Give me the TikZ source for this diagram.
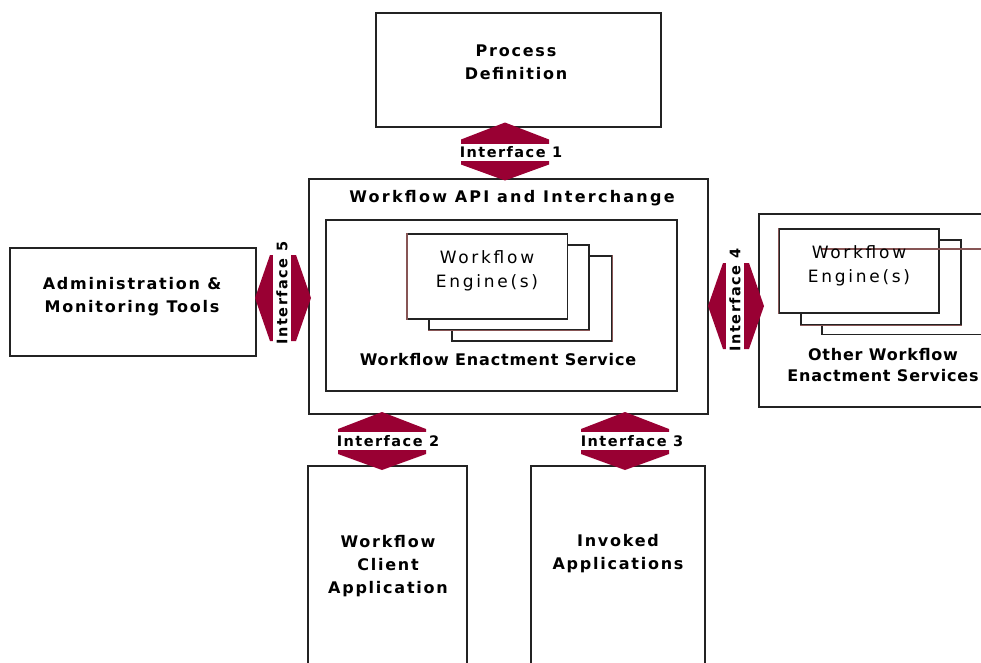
\documentclass[tikz,border=0pt]{standalone}
\usepackage{fontspec}
\setmainfont{DejaVu Sans}
\usetikzlibrary{calc}
\definecolor{ired}{RGB}{153,0,51}
\definecolor{bline}{RGB}{35,35,35}
\definecolor{brn}{RGB}{135,85,85}
\begin{document}
\begin{tikzpicture}[x=1pt,y=-1pt,
  box/.style={draw=bline,fill=white,line width=1.4pt,inner sep=0pt},
  ebox/.style={draw=bline,fill=white,line width=1.1pt,inner sep=0pt,minimum width=160,minimum height=85},
  lab/.style={inner sep=0pt,align=center,text=black},
  ftB/.style={font=\fontsize{16}{23}\selectfont\bfseries\addfontfeature{LetterSpace=11}},
  ftH/.style={font=\fontsize{16}{23}\selectfont\bfseries\addfontfeature{LetterSpace=14}},
  ftE/.style={font=\fontsize{17}{24}\selectfont\addfontfeature{LetterSpace=16}},
  ftS/.style={font=\fontsize{16}{21}\selectfont\bfseries\addfontfeature{LetterSpace=5}},
  ftI/.style={font=\fontsize{14.5}{16}\selectfont\bfseries\addfontfeature{LetterSpace=10}},
  ilab/.style={lab,ftI,fill=white,inner xsep=1pt,inner ysep=3pt},
  vhex/.pic={\fill[ired] (0,-29) -- (44,-12) -- (44,13) -- (0,29) -- (-44,13) -- (-44,-12) -- cycle;},
  hhex/.pic={\fill[ired] (-28,0) -- (-13,-43) -- (13,-43) -- (28,0) -- (13,43) -- (-13,43) -- cycle;}
]
\clip (0,0) rectangle (981,662);
\fill[white] (0,0) rectangle (981,662);

% boxes
\node[box,minimum width=285,minimum height=114] (pd) at (518.5,70) {};
\node[box,minimum width=399,minimum height=235] (api) at (508.5,296.5) {};
\node[box,minimum width=351,minimum height=171] (wes) at (501.5,305.5) {};
\node[box,minimum width=246,minimum height=108] (adm) at (133,302) {};
\node[box,minimum width=250,minimum height=193] (ows) at (884,310.5) {};
\node[box,minimum width=159,minimum height=220] (cli) at (387.5,576) {};
\node[box,minimum width=174,minimum height=220] (inv) at (618,576) {};

% engine stacks (main)
\node[ebox] (e3) at (532,298.5) {};
\node[ebox] (e2) at (509,287.5) {};
\node[ebox] (e1) at (487.5,276.5) {};
\draw[brn,line width=1.1pt] (e3.north east) -- (e3.south east);
\draw[brn,line width=1.1pt] (e2.south west) -- (e2.south east);
\draw[brn,line width=1.1pt] (e1.south west) -- (e1.north west);

% engine stacks (other)
\node[ebox,minimum width=180] (o3) at (912,292) {};
\node[ebox] (o2) at (881,282.5) {};
\node[ebox,minimum height=84] (o1) at (859,271) {};
\draw[brn,line width=1.1pt] (o3.north west) -- (o3.north east);
\draw[brn,line width=1.1pt] (o2.south west) -- (o2.south east);
\draw[brn,line width=1.1pt] (o1.south west) -- (o1.north west);

% texts
\node[lab,ftB] (pdt) at (516,62) {Process\\Definition};
\node[lab,ftH] (apit) at (512,198) {Workflow API and Interchange};
\node[lab,ftE] (e1t) at (487,271) {Workflow\\Engine(s)};
\node[lab,ftS] (west) at (498,360) {Workflow Enactment Service};
\node[lab,ftB] (admt) at (132,297) {Administration \&\\Monitoring Tools};
\node[lab,ftE] (o1t) at (859,266) {Workflow\\Engine(s)};
\node[lab,ftS] (owst) at (883,365) {Other Workflow\\Enactment Services};
\node[lab,ftB] (clit) at (388,566) {Workflow\\Client\\Application};
\node[lab,ftB] (invt) at (618,554) {Invoked\\Applications};

% interfaces
\coordinate (i1) at (505,151.5);
\coordinate (i2) at (382,441);
\coordinate (i3) at (625,441);
\coordinate (i5) at (283,298);
\coordinate (i4) at (736,306);
\pic at (i1) {vhex};
\pic at (i2) {vhex};
\pic at (i3) {vhex};
\pic at (i5) {hhex};
\pic at (i4) {hhex};
\node[ilab] (i1t) at ($(i1)+(6,1)$) {Interface 1};
\node[ilab] (i2t) at ($(i2)+(6,0)$) {Interface 2};
\node[ilab] (i3t) at ($(i3)+(7,0)$) {Interface 3};
\node[ilab,rotate=90] (i5t) at ($(i5)+(-1,-5)$) {Interface 5};
\node[ilab,rotate=90] (i4t) at ($(i4)+(-1,-6)$) {Interface 4};
\end{tikzpicture}
\end{document}
